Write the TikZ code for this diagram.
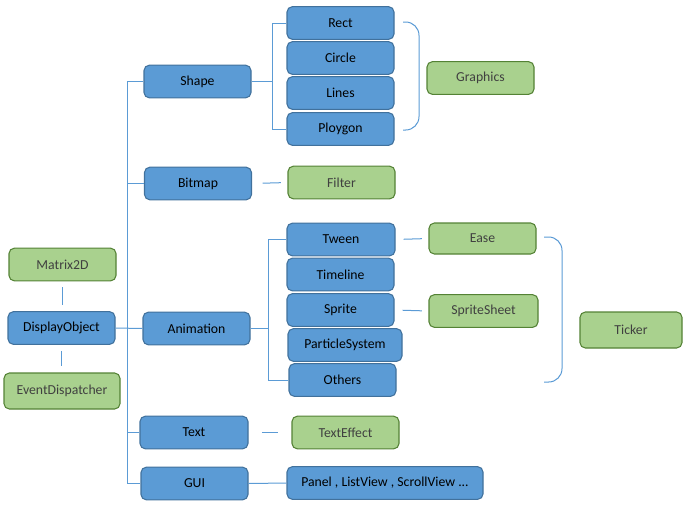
\documentclass[tikz,border=0pt]{standalone}
\usepackage{fontspec}
\setmainfont{Carlito}
\usepackage{tikz}
\usetikzlibrary{positioning}
\definecolor{boxblue}{HTML}{5B9BD5}
\definecolor{edgeblue}{HTML}{41719C}
\definecolor{boxgreen}{HTML}{A9D18E}
\definecolor{edgegreen}{HTML}{548235}
\definecolor{greytext}{HTML}{404040}

\begin{document}
\begin{tikzpicture}[x=0.75pt,y=-0.75pt]
    \tikzstyle{every node}+=[inner sep=0pt, font=\fontsize{10.3}{12}\selectfont]
    \tikzstyle{bluebox}=[draw=edgeblue, fill=boxblue, line width=0.8pt, rounded corners=4pt, minimum width=80.25pt, minimum height=24.5pt, text=black]
    \tikzstyle{greenbox}=[draw=edgegreen, fill=boxgreen, line width=0.8pt, rounded corners=4pt, minimum width=80.25pt, minimum height=24.5pt, text=greytext]
    \tikzstyle{link}=[draw=boxblue, line width=0.75pt]
    \useasboundingbox (0,0) rectangle (687,512);
    \node [greenbox] (matrix) at (62.5,264.5) {Matrix2D};
    \node [bluebox] (display) at (61.5,328) {DisplayObject};
    \node [greenbox, minimum width=87pt, minimum height=27pt] (dispatcher) at (62,391) {EventDispatcher};
    \node [bluebox] (shape) at (197.5,81.5) {Shape};
    \node [bluebox] (bitmap) at (198,183.5) {Bitmap};
    \node [bluebox] (animation) at (196.5,328.5) {Animation};
    \node [bluebox, minimum width=81pt] (text) at (194,432.5) {Text};
    \node [bluebox] (gui) at (194.5,483.5) {GUI};
    \node [bluebox] (rect) at (340.5,23) {Rect};
    \node [bluebox] (circle) at (340.5,58) {Circle};
    \node [bluebox] (lines) at (340.5,93) {Lines};
    \node [bluebox] (ploygon) at (340.5,129) {Ploygon};
    \node [greenbox] (graphics) at (480.5,78) {Graphics};
    \node [greenbox] (filter) at (341.5,182.5) {Filter};
    \node [bluebox, minimum width=81pt] (tween) at (341,239.5) {Tween};
    \node [bluebox] (timeline) at (340.5,274.5) {Timeline};
    \node [bluebox] (sprite) at (340.5,310) {Sprite};
    \node [bluebox, minimum width=85.5pt] (particle) at (345,345) {ParticleSystem};
    \node [bluebox] (others) at (342.5,380) {Others};
    \node [greenbox, minimum height=23.25pt] (ease) at (482.5,238.5) {Ease};
    \node [greenbox, minimum width=81.75pt] (spritesheet) at (483.5,311) {SpriteSheet};
    \node [greenbox, minimum width=76.5pt, minimum height=27pt] (ticker) at (631,330) {Ticker};
    \node [greenbox] (texteffect) at (345.5,432.5) {TextEffect};
    \node [bluebox, minimum width=147pt] (panel) at (385,483) {Panel , ListView , ScrollView ...};
    \coordinate (trunk) at (127,78);
    \coordinate (shapebar) at (272,23);
    \coordinate (animbar) at (268,237);
    \draw [link, shorten <=4.5pt, shorten >=4.5pt] (matrix.south) -- (matrix.south |- display.north);
    \draw [link, shorten <=4.5pt, shorten >=4.5pt] (display.south) -- (display.south |- dispatcher.north);
    \draw [link] (display.east) -- (animation.west);
    \draw [link] (shape.west) -- (shape.west -| trunk) -- (gui.west -| trunk) -- (gui.west);
    \draw [link] (bitmap.west) -- (bitmap.west -| trunk);
    \draw [link] (text.west) -- (text.west -| trunk);
    \draw [link] (shape.east) -- (shape.east -| shapebar);
    \draw [link] (rect.west) -- (rect.west -| shapebar) -- (ploygon.west -| shapebar) -- (ploygon.west);
    \draw [link] (animation.east) -- (animation.east -| animbar);
    \draw [link] (tween.west) -- (tween.west -| animbar) -- (others.west -| animbar) -- (others.west);
    \draw [link, rounded corners=10pt] (403,22) -- (419,22) -- (419,130) -- (403,130);
    \draw [link, rounded corners=10pt] (544,237) -- (562,237) -- (562,382) -- (544,382);
    \draw [link, shorten <=8pt, shorten >=5pt] (bitmap.east) -- (filter.west);
    \draw [link, shorten <=6pt, shorten >=5pt] (tween.east) -- (ease.west);
    \draw [link, shorten <=6pt, shorten >=5pt] (sprite.east) -- (spritesheet.west);
    \draw [link, shorten <=10pt, shorten >=10pt] (text.east) -- (texteffect.west);
    \draw [link] (gui.east) -- (panel.west);
\end{tikzpicture}
\end{document}
